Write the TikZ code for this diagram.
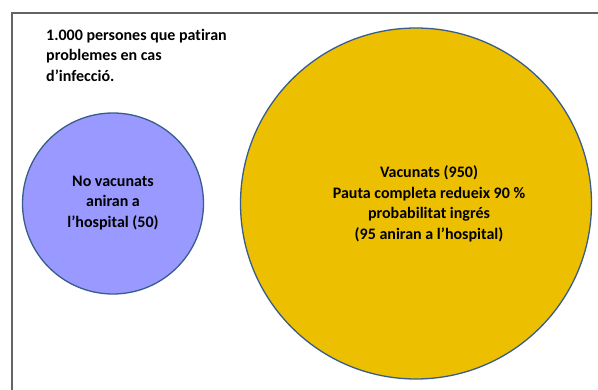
\documentclass[tikz,border=0pt]{standalone}
\usepackage{fontspec}
\setmainfont{Carlito}[Ligatures=NoCommon]
\usetikzlibrary{positioning}
\definecolor{myblue}{RGB}{153,153,255}
\definecolor{mygold}{RGB}{236,192,0}
\definecolor{myedge}{RGB}{56,93,138}
\definecolor{mygray}{RGB}{100,100,100}

\begin{document}
\begin{tikzpicture}[x=1pt,y=-1pt,
  grp/.style={draw=myedge,line width=1.3pt,circle,inner sep=0pt},
  novac/.style={grp,fill=myblue,minimum size=181pt},
  vac/.style={grp,fill=mygold,minimum size=351pt},
  lbl/.style={font=\fontsize{16}{20.5}\selectfont\bfseries,align=center}]

  \useasboundingbox (0,0) rectangle (598,389);

  % frame
  \draw[mygray,line width=1.5pt] (12,392) -- (12,13) -- (600,13);

  \node[lbl,anchor=north west,align=left,inner sep=0pt] (title) at (46,29)
    {1.000 persones que patiran\\problemes en cas\\d’infecció.};

  \node[novac] (novac) at (113,203.5) {};
  \node[vac] (vac) at (416,203.5) {};

  \node[lbl] (novactext) at (113,203) {No vacunats\\aniran a\\l’hospital (50)};
  \node[lbl] (vactext) at (429,204) {Vacunats (950)\\Pauta completa redueix 90 \%\\probabilitat ingrés\\(95 aniran a l’hospital)};

\end{tikzpicture}
\end{document}
